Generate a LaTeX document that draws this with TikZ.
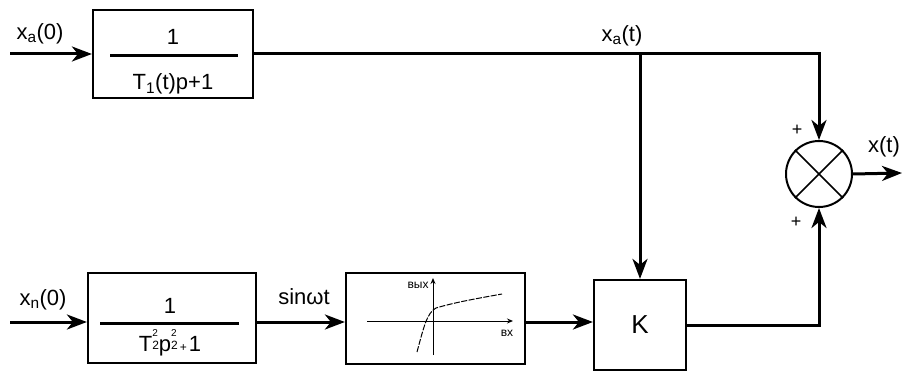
\documentclass[tikz,border=0pt]{standalone}
\usepackage{fontspec}
\setmainfont{Liberation Sans}
\usetikzlibrary{arrows.meta, positioning}
\tikzset{
  block/.style={rectangle, draw=black, line width=2.2pt, inner sep=0pt},
  sumnode/.style={circle, draw=black, line width=2pt, minimum size=66pt, inner sep=0pt},
  arrow/.style={-{Stealth[length=20pt, width=15pt, inset=6pt]}, line width=3pt},
  line/.style={line width=3pt},
  fracline/.style={line width=3pt},
  lbl/.style={font=\fontsize{22}{24}\selectfont, inner sep=1pt},
  sgn/.style={font=\fontsize{18}{20}\selectfont, inner sep=0pt},
  axis/.style={-{Stealth[length=6pt, width=5pt]}, line width=1pt},
  tiny/.style={font=\fontsize{12}{13}\selectfont, inner sep=0pt}
}
% stacked exponent over index
\newcommand{\supsub}[2]{\rlap{\raisebox{15pt}{\fontsize{10}{10}\selectfont #1}}%
  \raisebox{2pt}{\fontsize{12}{12}\selectfont #2}}

\begin{document}
\begin{tikzpicture}[x=1pt, y=-1pt]
  \useasboundingbox (0,0) rectangle (902,374);
  % upper branch
  \node[block, minimum width=160pt, minimum height=88pt] (blkA) at (173,54) {};
  \node[lbl] (numA) at (173,37) {1};
  \node[lbl] (denA) at (173,84) {T\textsubscript{1}(t)p+1};
  \draw[fracline] (110,56) -- (238,56);
  \coordinate (inA) at (10,54);
  \draw[arrow] (inA) -- (blkA.west);
  \node[lbl] (labA) at (40,34) {x\textsubscript{a}(0)};
  % lower branch
  \node[block, minimum width=168pt, minimum height=90pt] (blkN) at (172,318) {};
  \node[lbl] (numN) at (170,306) {1};
  \node[lbl] (denN) at (170,343) {T\supsub{2}{2}p\supsub{2}{2}{\fontsize{12}{12}\selectfont\,+\,}1};
  \draw[fracline] (100,323) -- (239,323);
  \coordinate (inN) at (10,322);
  \draw[arrow] (inN) -- (inN -| blkN.west);
  \node[lbl] (labN) at (43,300) {x\textsubscript{n}(0)};
  % nonlinear element
  \node[block, minimum width=179pt, minimum height=91pt] (blkNL) at (435.5,318.5) {};
  \draw[arrow] (blkN.east |- inN) -- (blkNL.west |- inN);
  \node[lbl] (labS) at (304,297) {sinωt};
  \draw[axis] (367,321) -- (513,321);
  \draw[axis] (433,355) -- (433,278);
  \draw[line width=1pt, dash pattern=on 6pt off 1.5pt]
    (417,352) .. controls (424,326) and (427,313) .. (436,308)
    .. controls (456,302) and (480,298) .. (502,294);
  \node[tiny] (labOut) at (418,285) {вых};
  \node[tiny] (labIn) at (507,333) {вх};
  % gain
  \node[block, minimum width=92pt, minimum height=90pt, font=\fontsize{26}{28}\selectfont] (blkK) at (640,325) {K};
  \draw[arrow] (blkNL.east |- inN) -- (blkK.west |- inN);
  % summing junction
  \node[sumnode] (sum) at (819,174) {};
  \draw[line width=1.6pt] (sum.north east) -- (sum.south west)
                          (sum.north west) -- (sum.south east);
  \draw[arrow] (blkA.east) -| (sum.north);
  \coordinate (brK) at (blkK.north |- blkA.east);
  \draw[arrow] (brK) -- (blkK.north);
  \draw[arrow] (blkK.east) -| (sum.south);
  \coordinate (out) at (902,173);
  \draw[arrow] (sum.east) -- (out);
  \node[lbl] (labXa) at (622,36) {x\textsubscript{a}(t)};
  \node[lbl] (labX) at (884,147) {x(t)};
  \node[sgn] (plusA) at (797,130) {+};
  \node[sgn] (plusB) at (796,222) {+};
\end{tikzpicture}
\end{document}
